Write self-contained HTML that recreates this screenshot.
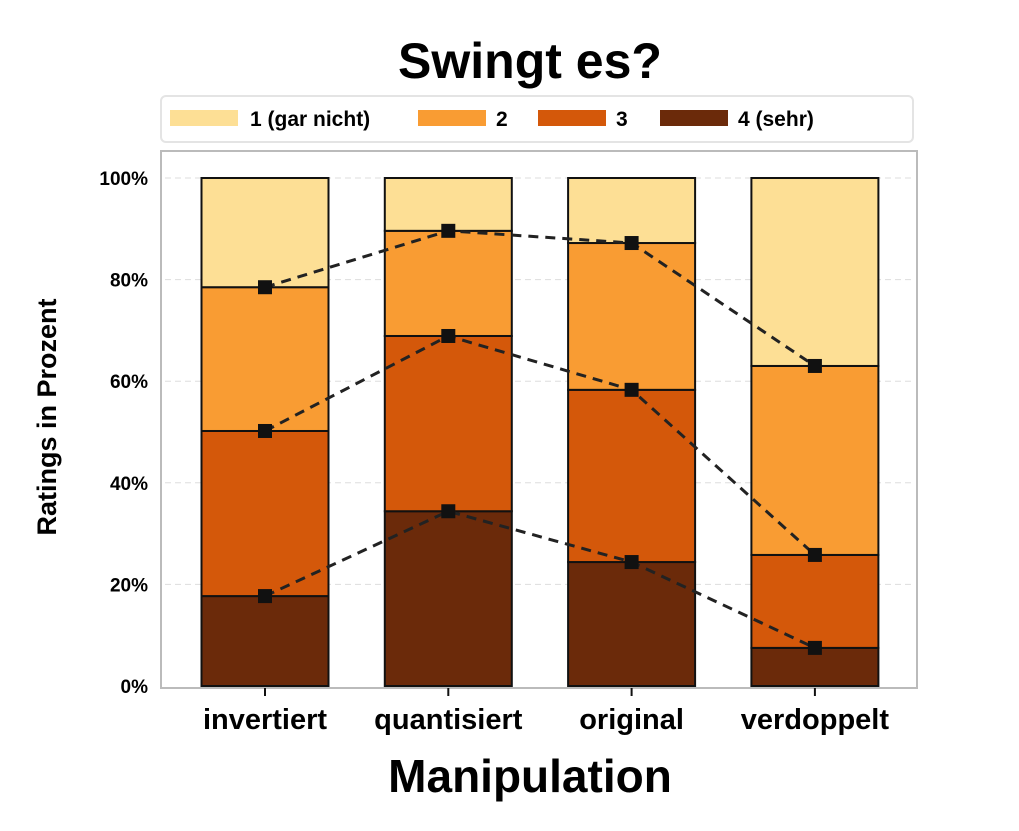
<!DOCTYPE html>
<html><head><meta charset="utf-8"><style>
body{margin:0;background:#fff;width:1019px;height:826px;overflow:hidden;font-family:"Liberation Sans",sans-serif}
</style></head><body>
<svg width="1019" height="826">
<text x="530" y="78" text-anchor="middle" font-size="50" font-weight="bold">Swingt es?</text>
<g>
<rect x="161" y="96" width="752" height="46" rx="5" fill="#fff" stroke="#e4e4e4" stroke-width="2"/>
<g id="leg"></g>
</g>
<rect x="161" y="151" width="756" height="537" fill="#fff" stroke="#bbb" stroke-width="2"/>
<g id="grid"></g><g id="bars"></g><g id="lines"></g><g id="axes"></g>
<text x="530" y="792" text-anchor="middle" font-size="46" font-weight="bold">Manipulation</text>
<text transform="translate(56,417) rotate(-90)" text-anchor="middle" font-size="27" font-weight="bold">Ratings in Prozent</text>
</svg>
<script>
const categories=["invertiert","quantisiert","original","verdoppelt"];
const r4=[17.7,34.4,24.4,7.5];
const r3=[32.5,34.5,33.9,18.3];
const r2=[28.3,20.7,28.9,37.2];
const r1=[21.5,10.4,12.8,37.0];
const yTicks=[0,20,40,60,80,100];
const legendLabels=["1  (gar nicht)","2","3","4         (sehr)"];
const colors=["#fddf95","#f99c33","#d4580a","#6b2a0a"];
const NS="http://www.w3.org/2000/svg";
const y=v=>686-v*5.08;
const xc=i=>265+i*183.3;
const bw=127;
function mk(tag,attrs,parent){const e=document.createElementNS(NS,tag);for(const k in attrs)e.setAttribute(k,attrs[k]);document.getElementById(parent).appendChild(e);return e;}
yTicks.forEach(t=>{
 if(t>0){const g=mk('line',{x1:165,x2:915,y1:y(t),y2:y(t),stroke:'#ddd','stroke-dasharray':'6,4'},'grid');
 
 }
 const tx=mk('text',{x:148,y:y(t)+7,'text-anchor':'end','font-size':19,'font-weight':'bold'},'axes');tx.textContent=t+'%';
 
 
});
const series=[r4,r3,r2,r1];const names=["4","3","2","1"];const cols=[colors[3],colors[2],colors[1],colors[0]];
const cums=[];
categories.forEach((c,i)=>{
 let base=0;const cc=[];
 series.forEach((s,k)=>{
  const top=base+s[i];
  const r=mk('rect',{x:xc(i)-bw/2,y:y(top),width:bw,height:y(base)-y(top),fill:cols[k],stroke:'#111','stroke-width':2},'bars');
  
  
  base=top;cc.push(top);
 });
 cums.push(cc);
 const l=mk('text',{x:xc(i),y:729,'text-anchor':'middle','font-size':29,'font-weight':'bold'},'axes');l.textContent=c;
 
 
 const tk=mk('line',{x1:xc(i),x2:xc(i),y1:688,y2:696,stroke:'#111','stroke-width':2},'axes');
 
 
});
[0,1,2].forEach(k=>{
 const pts=categories.map((c,i)=>xc(i)+','+y(cums[i][k])).join(' ');
 const pl=mk('polyline',{points:pts,fill:'none',stroke:'#222','stroke-width':3,'stroke-dasharray':'10,7'},'lines');
 
 
 categories.forEach((c,i)=>{
  const m=mk('rect',{x:xc(i)-7,y:y(cums[i][k])-7,width:14,height:14,fill:'#111'},'lines');
  
  
 });
});
const lx=[170,418,538,660],tx=[250,496,616,738];
legendLabels.forEach((t,i)=>{
 const s=mk('rect',{x:lx[i],y:110,width:68,height:16,fill:colors[i]},'leg');
 
 
 const e=mk('text',{x:tx[i],y:126,'font-size':21,'font-weight':'bold','xml:space':'preserve'},'leg');e.textContent=t;
 
 
});
</script>
</body></html>
